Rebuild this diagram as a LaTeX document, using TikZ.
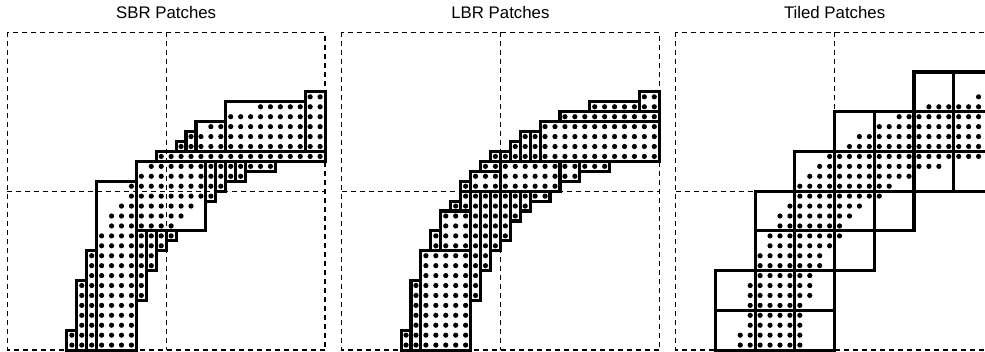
\documentclass[tikz,border=0pt]{standalone}
\usepackage{fontspec}
\setmainfont{Liberation Sans}
% dots of the quarter ring: cells whose centre lies between the two radii
\newcommand\ringdots{%
  \foreach \i in {0,...,31}{%
    \foreach \j in {0,...,31}{%
      \pgfmathtruncatemacro\dd{(31.5-\i)*(31.5-\i)+(31.5-\j)*(31.5-\j)}%
      \ifnum\dd>368 \ifnum\dd<655 \fill[pix] (\i+0.5,\j+0.5) circle[radius=2.6pt];\fi\fi
    }}}
% dashed frame and quadrant lines of one panel
\newcommand\quadframe{%
  \draw[guide] (0,0) rectangle (32,32);
  \draw[guide] (16,0) -- (16,32);
  \draw[guide] (0,16) -- (32,16);}
\begin{document}
\begin{tikzpicture}[x=1pt,y=1pt,
  guide/.style={dash pattern=on 5pt off 4pt, line width=1.15pt},
  patch/.style={line width=3.1pt, line join=miter},
  pix/.style={fill=black},
  ttl/.style={font=\fontsize{16.8}{18}\selectfont, anchor=base}]
\useasboundingbox (0,0) rectangle (985,351);
\clip (0,0) rectangle (985,351);

\node[ttl] (tsbr) at (166.2,332.5) {SBR Patches};
\node[ttl] (tlbr) at (500.4,332.5) {LBR Patches};
\node[ttl] (ttil) at (834.6,332.5) {Tiled Patches};

% ---- SBR panel ----
\begin{scope}[shift={(7.3,318.7)}, x=9.93pt, y=-9.93pt]
  \ringdots
  \quadframe
  \foreach \a/\b/\c/\d in {30/6/32/12, 22/7/30/12, 19/9/22/12, 18/10/19/12, 17/11/18/12,
      15/12/32/13, 13/13/20/20,
      20/13/21/17, 21/13/22/16, 22/13/23/15, 23/13/24/15, 24/13/27/14,
      9/15/13/32,
      13/20/14/27, 14/20/15/24, 15/20/16/22, 16/20/17/21,
      8/22/9/32, 7/25/8/32, 6/30/7/32}
    \draw[patch] (\a,\b) rectangle (\c,\d);
\end{scope}

% ---- LBR panel ----
\begin{scope}[shift={(341.5,318.7)}, x=9.93pt, y=-9.93pt]
  \ringdots
  \quadframe
  \foreach \a/\b/\c/\d in {30/6/32/8, 25/7/30/8, 22/8/32/9, 20/9/32/13,
      19/10/20/13, 18/10/19/13, 17/11/18/13, 16/12/17/13, 15/12/16/13,
      16/13/22/16, 22/13/24/15, 24/13/27/14,
      14/13/16/14, 13/14/16/16, 12/15/13/16,
      8/22/13/32, 7/25/8/32, 6/30/7/32,
      9/20/10/22, 10/18/13/22, 11/17/12/18, 12/16/13/18,
      13/16/14/27, 14/16/15/24, 15/16/16/22, 16/16/17/21, 17/16/18/19,
      18/16/19/18, 19/16/21/17}
    \draw[patch] (\a,\b) rectangle (\c,\d);
\end{scope}

% ---- Tiled panel: 4x4 tiles holding at least one dot ----
\begin{scope}[shift={(675.7,318.7)}, x=9.93pt, y=-9.93pt]
  \ringdots
  \quadframe
  \foreach \tc/\tr in {6/1, 7/1, 4/2, 5/2, 6/2, 7/2, 3/3, 4/3, 5/3, 6/3, 7/3,
      2/4, 3/4, 4/4, 5/4, 2/5, 3/5, 4/5, 1/6, 2/6, 3/6, 1/7, 2/7, 3/7}
    \draw[patch] (4*\tc,4*\tr) rectangle ++(4,4);
\end{scope}
\end{tikzpicture}
\end{document}
